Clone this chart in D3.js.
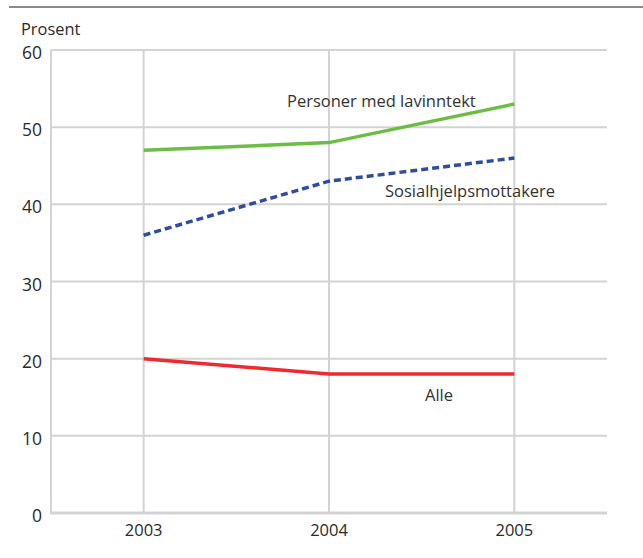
<!DOCTYPE html>
<html><head><meta charset="utf-8">
<script src="https://cdn.jsdelivr.net/npm/d3@7"></script>
<style>
html,body{margin:0;padding:0;background:#fff;}
svg{display:block;font-family:"Open Sans",sans-serif;}
</style></head>
<body>
<svg id="c" width="643" height="558"></svg>
<script>
const years = ["2003","2004","2005"];
const lavinntekt = [47, 48, 53];
const sosialhjelp = [36, 43, 46];
const alle = [20, 18, 18];
const yTicks = [0,10,20,30,40,50,60];
const seriesNames = ["Personer med lavinntekt","Sosialhjelpsmottakere","Alle"];

const svg = d3.select("#c");
const L = 51, R = 607, T = 50, B = 513;
const x = d3.scalePoint().domain(years).range([L, R]).padding(0.5);
const y = d3.scaleLinear().domain([0,60]).range([B, T]);
const grid = "#d3d3d3";

// top rule
svg.append("line").attr("x1",9).attr("x2",643).attr("y1",7).attr("y2",7)
  .attr("stroke","#8a8a8a").attr("stroke-width",2);

// horizontal gridlines
svg.append("g").selectAll("line").data(yTicks.filter(d=>d>0)).join("line")
  .attr("x1",L).attr("x2",R).attr("y1",d=>y(d)).attr("y2",d=>y(d))
  .attr("stroke",grid).attr("stroke-width",2);
// vertical gridlines
svg.append("g").selectAll("line").data(years).join("line")
  .attr("x1",d=>x(d)).attr("x2",d=>x(d)).attr("y1",T).attr("y2",B)
  .attr("stroke",grid).attr("stroke-width",2);
// left axis
svg.append("line").attr("x1",L).attr("x2",L).attr("y1",T).attr("y2",B+1)
  .attr("stroke",grid).attr("stroke-width",2);
// bottom axis
svg.append("line").attr("x1",L-1).attr("x2",R).attr("y1",B).attr("y2",B)
  .attr("stroke",grid).attr("stroke-width",3);

// y tick labels
svg.append("g").selectAll("text").data(yTicks).join("text")
  .attr("x",42).attr("y",d=>y(d)+9).attr("text-anchor","end")
  .attr("font-size",17.5).attr("fill","#2a2a2a").text(d=>d);
// x labels
svg.append("g").selectAll("text").data(years).join("text")
  .attr("x",d=>x(d)).attr("y",536).attr("text-anchor","middle")
  .attr("font-size",16.5).attr("fill","#2a2a2a").text(d=>d);
svg.append("text").attr("x",21).attr("y",35).attr("font-size",16.4).attr("fill","#2a2a2a").text("Prosent");

const line = d3.line().x((d,i)=>x(years[i])).y(d=>y(d));
svg.append("path").datum(alle).attr("d",line).attr("fill","none")
  .attr("stroke","#ee2a2e").attr("stroke-width",3.5);
svg.append("path").datum(lavinntekt).attr("d",line).attr("fill","none")
  .attr("stroke","#6cbd45").attr("stroke-width",3.5);
svg.append("path").datum(sosialhjelp).attr("d",line).attr("fill","none")
  .attr("stroke","#2e4da0").attr("stroke-width",3.5).attr("stroke-dasharray","7 4");

const lab = [[287,107],[385,197],[425,401]];
svg.append("g").selectAll("text").data(seriesNames).join("text")
  .attr("x",(d,i)=>lab[i][0]).attr("y",(d,i)=>lab[i][1])
  .attr("font-size",16.5).attr("fill","#333").text(d=>d);
</script>
</body></html>
